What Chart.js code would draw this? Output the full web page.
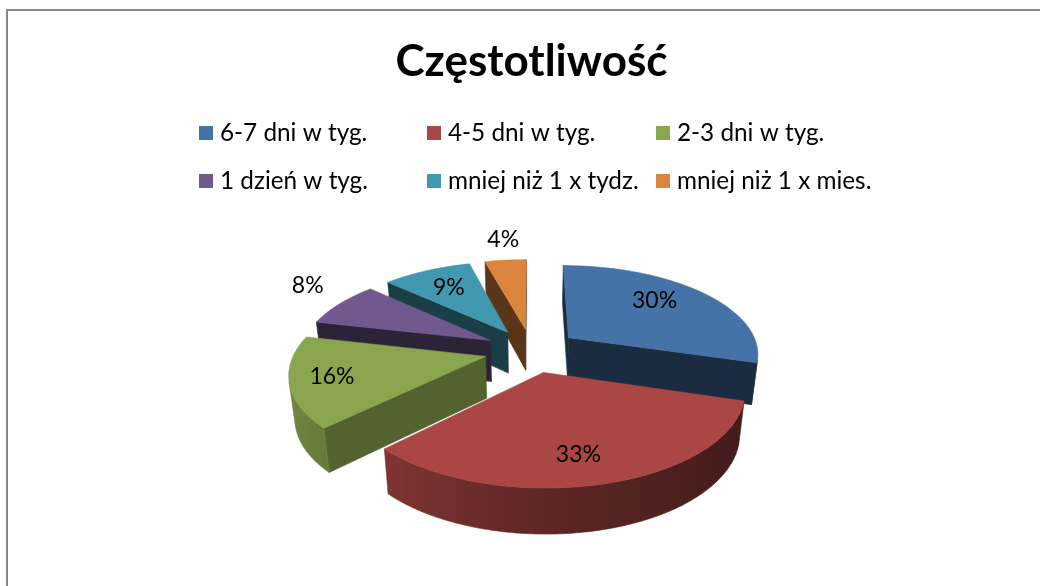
<!DOCTYPE html>
<html lang="pl">
<head>
<meta charset="utf-8">
<title>Częstotliwość</title>
<script src="https://cdn.jsdelivr.net/npm/chart.js@4"></script>
<style>
html,body{margin:0;padding:0;background:#fff;overflow:hidden;width:1040px;height:586px}
#frame{position:absolute;left:6px;top:9px;width:1200px;height:800px;border:2px solid #868686}
#c{position:absolute;left:0;top:0;display:block}
</style>
</head>
<body>
<div id="frame"></div>
<canvas id="c" width="1040" height="586"></canvas>
<script>
const chartTitle = 'Częstotliwość';
const categories = ['6-7 dni w tyg.', '4-5 dni w tyg.', '2-3 dni w tyg.', '1 dzień w tyg.', 'mniej niż 1 x tydz.', 'mniej niż 1 x mies.'];
const shares = [29.6, 33, 16, 8.2, 9, 4.2];
const sliceColors = ['#4572A7', '#AA4643', '#89A54E', '#71588F', '#4198AF', '#DB843D'];

// look of the 3-D pie
const sideShade = [0.39, 0.39, 0.60, 0.40, 0.40, 0.41];
const labelRadius = [0.70, 0.76, 0.79, 1.33, 0.70, 1.36];
const labelTurnDeg = [-6, 3, 0, 5, 0, 1];
const view = { scaleX: 190.4, scaleY: 88, persp: 0.1665, depth: 41.5, depthFront: 3.7, shrink: 0.975 };
const FONT = 'Lato, Carlito, sans-serif';

function shade(hex, f) {
  const n = parseInt(hex.slice(1), 16);
  return `rgb(${Math.round((n >> 16) * f)},${Math.round(((n >> 8) & 255) * f)},${Math.round((n & 255) * f)})`;
}
function area(p) {
  let a = 0;
  for (let i = 0; i < p.length; i++) {
    const q = p[(i + 1) % p.length];
    a += p[i][0] * q[1] - q[0] * p[i][1];
  }
  return a / 2;
}
function fill(ctx, p, col) {
  ctx.beginPath();
  p.forEach((q, i) => i ? ctx.lineTo(q[0], q[1]) : ctx.moveTo(q[0], q[1]));
  ctx.closePath();
  ctx.fillStyle = col;
  ctx.strokeStyle = col;
  ctx.lineWidth = 0.6;
  ctx.fill();
  ctx.stroke();
}
function rimShade(nu) {
  return nu < 0 ? 0.55 - 0.28 * nu : 0.55 - 0.17 * nu;
}

const pie3d = {
  id: 'pie3d',
  beforeDatasetDraw(chart, args) {
    const ctx = chart.ctx;
    const arcs = chart.getDatasetMeta(args.index).data;
    const R = arcs[0].outerRadius;
    const cx = arcs[0].x, cy = arcs[0].y;
    const sx = view.scaleX, sy = view.scaleY, k = view.persp;
    const top = (u, v) => {
      const w = 1 - k * v;
      return [cx + sx * u / w, cy + sy * v / w];
    };
    const bot = (u, v) => {
      const t = top(u, v);
      return [cx + (t[0] - cx) * view.shrink, t[1] + view.depth + view.depthFront * v];
    };
    const items = arcs.map((a, i) => {
      const mid = (a.startAngle + a.endAngle) / 2;
      const d = a.options.offset / R;
      return { a, i, mid, ox: Math.cos(mid) * d, oy: Math.sin(mid) * d };
    }).sort((p, q) => Math.sin(p.mid) - Math.sin(q.mid));

    for (const s of items) {
      const col = sliceColors[s.i];
      const wall = shade(col, sideShade[s.i]);
      const pt = ang => [Math.cos(ang) + s.ox, Math.sin(ang) + s.oy];
      const apex = [s.ox, s.oy];
      const b0 = pt(s.a.startAngle), b1 = pt(s.a.endAngle);
      // straight cut faces
      const q0 = [top(...apex), top(...b0), bot(...b0), bot(...apex)];
      const q1 = [top(...b1), top(...apex), bot(...apex), bot(...b1)];
      if (area(q0) < 0) fill(ctx, q0, wall);
      if (area(q1) < 0) fill(ctx, q1, wall);
      // curved rim: one outline, shaded left to right
      const steps = Math.ceil((s.a.endAngle - s.a.startAngle) / (Math.PI / 180));
      const rim = [];
      for (let j = 0; j <= steps; j++) {
        rim.push(s.a.startAngle + (s.a.endAngle - s.a.startAngle) * j / steps);
      }
      const vis = rim.filter((r, j) => {
        if (j === steps) return false;
        const p0 = pt(r), p1 = pt(rim[j + 1]);
        return area([top(...p0), top(...p1), bot(...p1), bot(...p0)]) < 0;
      });
      if (vis.length) {
        const angs = vis.concat([vis[vis.length - 1] + (rim[1] - rim[0])]);
        const tops = angs.map(r => top(...pt(r)));
        const bots = angs.map(r => bot(...pt(r)));
        const xs = tops.concat(bots).map(p => p[0]);
        const x0 = Math.min(...xs), x1 = Math.max(...xs);
        const g = ctx.createLinearGradient(x0, 0, x1, 0);
        angs.map((r, j) => [(tops[j][0] - x0) / (x1 - x0), rimShade(Math.cos(r))])
          .sort((m, n) => m[0] - n[0])
          .forEach(m => g.addColorStop(Math.min(1, Math.max(0, m[0])), shade(col, m[1])));
        fill(ctx, tops.concat(bots.reverse()), g);
      }
      // top surface
      const face = [top(...apex)];
      rim.forEach(r => face.push(top(...pt(r))));
      fill(ctx, face, col);
    }

    // percentage labels
    const total = shares.reduce((x, y) => x + y, 0);
    ctx.fillStyle = '#000';
    ctx.font = `23px ${FONT}`;
    ctx.textAlign = 'center';
    ctx.textBaseline = 'middle';
    for (const s of items) {
      const ang = s.mid + labelTurnDeg[s.i] * Math.PI / 180;
      const r = labelRadius[s.i];
      const p = top(Math.cos(ang) * r + s.ox, Math.sin(ang) * r + s.oy);
      ctx.fillText(Math.round(shares[s.i] / total * 100) + '%', p[0], p[1]);
    }
    return false;
  }
};

const gridLegend = {
  id: 'gridLegend',
  afterDraw(chart) {
    const ctx = chart.ctx;
    const colX = [199, 427, 656], rowY = [133, 181];
    ctx.save();
    ctx.font = `24.3px ${FONT}`;
    ctx.textAlign = 'left';
    ctx.textBaseline = 'middle';
    chart.data.labels.forEach((label, i) => {
      const x = colX[i % 3], y = rowY[Math.floor(i / 3)];
      ctx.fillStyle = sliceColors[i];
      ctx.fillRect(x, y - 7, 14, 14);
      ctx.fillStyle = '#000';
      ctx.fillText(label, x + 21, y);
    });
    ctx.restore();
  }
};

new Chart(document.getElementById('c'), {
  type: 'pie',
  data: {
    labels: categories,
    datasets: [{
      data: shares,
      backgroundColor: sliceColors,
      borderWidth: 0,
      offset: 52
    }]
  },
  options: {
    responsive: false,
    animation: false,
    events: [],
    layout: { padding: { left: 23, top: 0, right: 0, bottom: 0 } },
    plugins: {
      legend: { display: false },
      tooltip: { enabled: false },
      title: {
        display: true,
        text: chartTitle,
        color: '#000',
        font: { family: FONT, size: 44, weight: 'bold', lineHeight: 1.2 },
        padding: { top: 35, bottom: 27 }
      }
    }
  },
  plugins: [pie3d, gridLegend]
});
</script>
</body>
</html>
